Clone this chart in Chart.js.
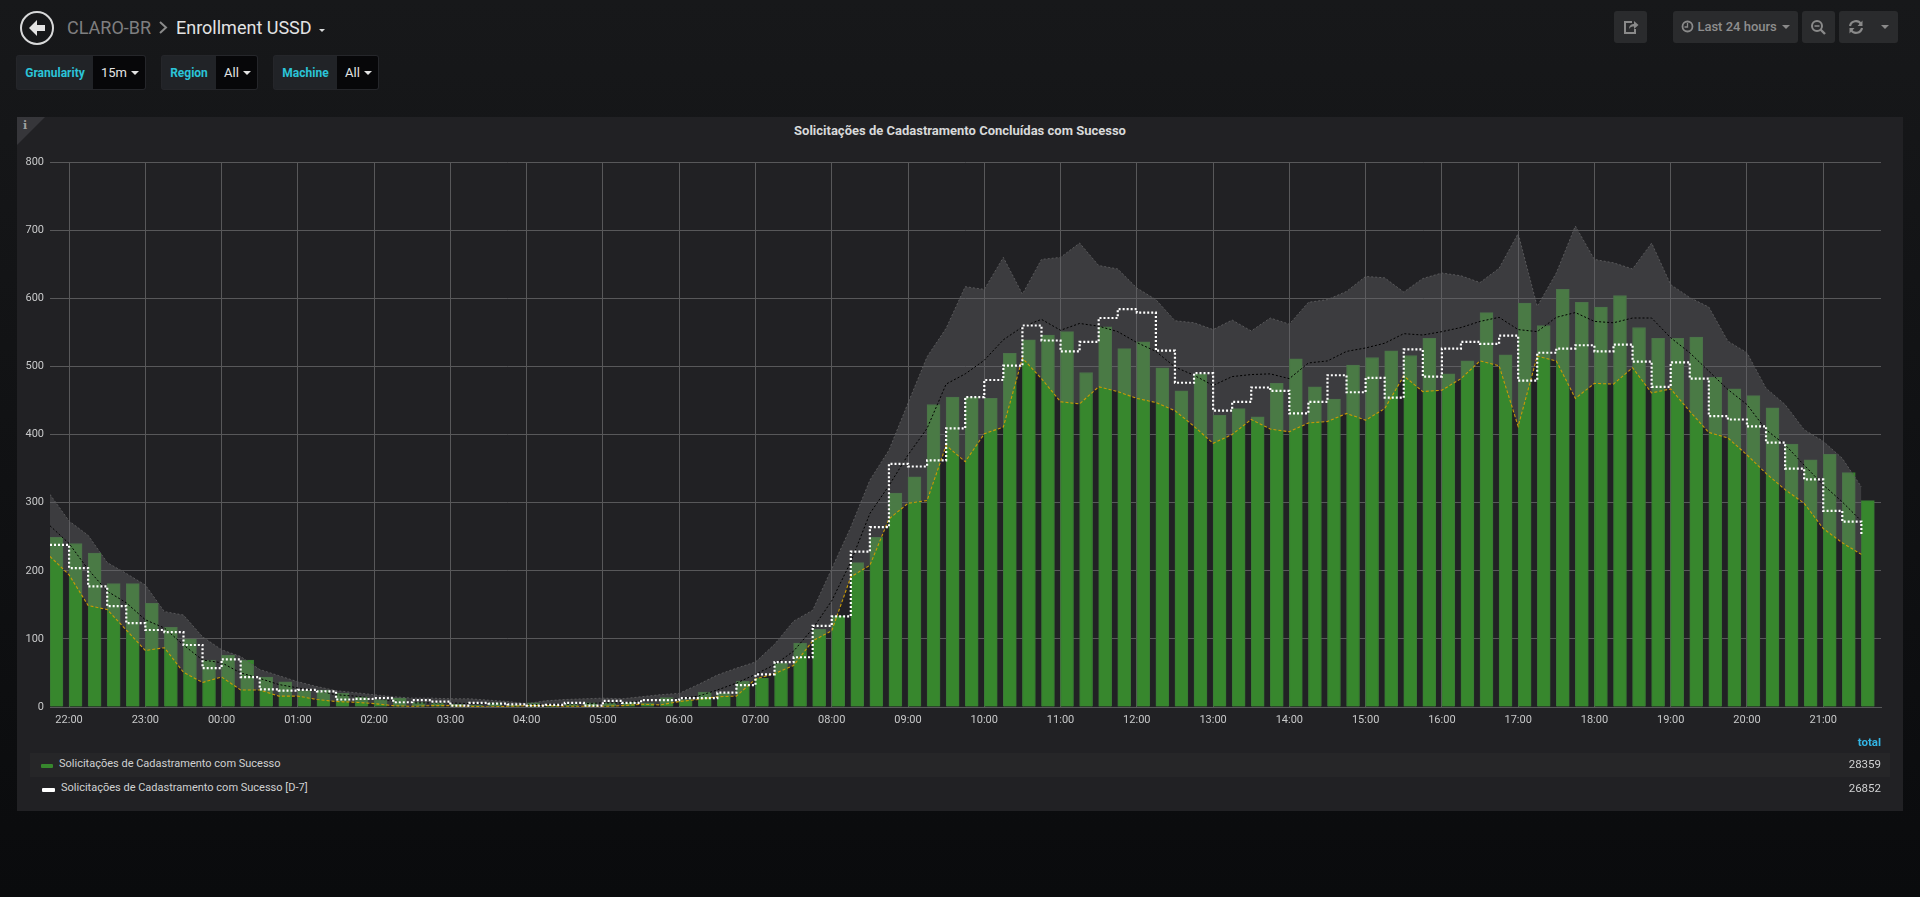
<!DOCTYPE html>
<html>
<head>
<meta charset="utf-8">
<title>Enrollment USSD</title>
<script src="https://cdn.jsdelivr.net/npm/chart.js@4/dist/chart.umd.min.js"></script>
<style>
  html, body { margin: 0; padding: 0; width: 1920px; height: 897px; overflow: hidden; }
  body { background: linear-gradient(#17181a, #0a0b0d); font-family: Roboto, sans-serif; position: relative; }
  .abs { position: absolute; white-space: nowrap; }
  .crumb { top: 15px; font-size: 18px; line-height: 26px; }
  .filter { top: 55px; height: 35px; line-height: 34px; box-sizing: border-box; font-size: 12px; border: 1px solid #25262a; border-radius: 3px; }
  .filter.label { background: #212327; color: #2bc4d8; font-weight: 700; text-align: center; border-right: 0; border-radius: 3px 0 0 3px; }
  .filter.value { background: #070709; color: #e3e3e3; font-size: 13px; padding-left: 8px; border-left: 0; border-radius: 0 3px 3px 0; }
  .caret { display: inline-block; width: 0; height: 0; border: 4px solid transparent; border-top-color: #e3e3e3; border-bottom: 0; margin-left: 4px; vertical-align: 2px; }
  .btn { top: 11px; height: 32px; background: #2a2b2d; border-radius: 3px; color: #8e8e8e; font-size: 13px; line-height: 32px; text-align: center; font-weight: 500; }
  #panel { left: 17px; top: 117px; width: 1886px; height: 694px; background: #212124; }
  #corner { left: 17px; top: 117px; width: 0; height: 0; border-top: 28px solid #36363a; border-right: 28px solid transparent; }
  #title { left: 17px; top: 122px; width: 1886px; text-align: center; font-size: 13px; font-weight: 700; line-height: 17px; color: #d8d9da; }
  #chartBox { left: 17px; top: 117px; width: 1886px; height: 623px; }
  .legend-text { font-size: 11px; color: #d0d1d2; line-height: 16px; }
</style>
</head>
<body>
<!-- header -->
<svg class="abs" style="left:19px;top:10px" width="36" height="36" viewBox="0 0 36 36">
  <circle cx="18" cy="18" r="16" fill="none" stroke="#d8d9da" stroke-width="2"/>
  <path d="M10 18 L18 10 L18 15 L26 15 L26 21 L18 21 L18 26 Z" fill="#e3e3e3"/>
</svg>
<div class="abs crumb" style="left:67px;color:#7f7f80">CLARO-BR</div>
<svg class="abs" style="left:158px;top:21px" width="10" height="13" viewBox="0 0 10 13"><path d="M2 1 L8 6.5 L2 12" fill="none" stroke="#8a8a8a" stroke-width="2"/></svg>
<div class="abs crumb" style="left:176px;color:#e3e3e3">Enrollment USSD</div>
<div class="abs" style="left:319px;top:29px;width:0;height:0;border:3px solid transparent;border-top-color:#d8d9da;border-bottom:0"></div>

<div class="abs filter label" style="left:16px;width:77px">Granularity</div>
<div class="abs filter value" style="left:93px;width:53px">15m<span class="caret"></span></div>
<div class="abs filter label" style="left:161px;width:55px">Region</div>
<div class="abs filter value" style="left:216px;width:42px">All<span class="caret"></span></div>
<div class="abs filter label" style="left:273px;width:64px">Machine</div>
<div class="abs filter value" style="left:337px;width:42px">All<span class="caret"></span></div>

<div class="abs btn" style="left:1614px;width:33px">
  <svg width="16" height="16" viewBox="0 0 16 16" style="margin-top:8px"><path d="M9 3 H2 V14 H12 V10" fill="none" stroke="#8a8a8a" stroke-width="2"/><path d="M6 10 C6 6 9 5 11 5 V2 L15.5 6 L11 10 V7.5 C9 7.5 7 8 6 10Z" fill="#8a8a8a"/></svg>
</div>
<div class="abs btn" style="left:1673px;width:125px">
  <svg width="13" height="13" viewBox="0 0 13 13" style="vertical-align:-2px"><circle cx="6.5" cy="6.5" r="5" fill="none" stroke="#8a8a8a" stroke-width="1.8"/><path d="M6.5 3 V7 H3.5" fill="none" stroke="#8a8a8a" stroke-width="1.3"/></svg>
  Last 24 hours<span class="caret" style="border-top-color:#8a8a8a;margin-left:5px"></span>
</div>
<div class="abs btn" style="left:1802px;width:33px">
  <svg width="17" height="17" viewBox="0 0 17 17" style="margin-top:8px"><circle cx="7" cy="7" r="5" fill="none" stroke="#8a8a8a" stroke-width="2"/><path d="M10.5 10.5 L15 15" stroke="#8a8a8a" stroke-width="2.4"/><path d="M4.5 7 H9.5" stroke="#8a8a8a" stroke-width="1.6"/></svg>
</div>
<div class="abs btn" style="left:1839px;width:59px;text-align:left">
  <svg width="16" height="16" viewBox="0 0 16 16" style="margin:8px 0 0 9px"><path d="M2 7 A6 6 0 0 1 13 5 M14 9 A6 6 0 0 1 3 11" fill="none" stroke="#8a8a8a" stroke-width="2.2"/><path d="M14.5 1.5 V7 H9.5Z M1.5 14.5 V9 H6.5Z" fill="#8a8a8a"/></svg>
  <span class="caret" style="border-top-color:#8a8a8a;position:absolute;left:38px;top:14px"></span>
</div>

<!-- panel -->
<div class="abs" id="panel"></div>
<div class="abs" id="corner"></div>
<div class="abs" style="left:23px;top:119px;font:700 11px 'DejaVu Serif',serif;color:#a0a0a0">i</div>
<div class="abs" id="title">Solicitações de Cadastramento Concluídas com Sucesso</div>
<div class="abs" id="chartBox"><canvas id="chart"></canvas></div>

<!-- legend -->
<div class="abs" style="left:30px;top:753px;width:1860px;height:24px;background:#262628"></div>
<div class="abs" style="right:39px;top:734px;font-size:11.5px;font-weight:700;color:#33b5e5;line-height:16px">total</div>
<div class="abs" style="left:41px;top:764px;width:12px;height:4px;background:#37872d;border-radius:1px"></div>
<div class="abs legend-text" style="left:59px;top:756px">Solicitações de Cadastramento com Sucesso</div>
<div class="abs legend-text" style="right:39px;top:756px;font-size:11.5px">28359</div>
<div class="abs" style="left:42px;top:788px;width:13px;height:4px;background:#ffffff;border-radius:1px"></div>
<div class="abs legend-text" style="left:61px;top:780px">Solicitações de Cadastramento com Sucesso [D-7]</div>
<div class="abs legend-text" style="right:39px;top:780px;font-size:11.5px">26852</div>

<script>
/* One slot every 15 minutes, first slot is 21:45 */
var tickLabels = ['22:00','23:00','00:00','01:00','02:00','03:00','04:00','05:00','06:00','07:00','08:00','09:00',
  '10:00','11:00','12:00','13:00','14:00','15:00','16:00','17:00','18:00','19:00','20:00','21:00'];
var yTicks = [0, 100, 200, 300, 400, 500, 600, 700, 800];

/* Today, bars */
var current = [249,240,226,181,181,152,117,100,69,76,69,44,37,24,25,20,15,11,13,7,
  6,4,3,6,3,6,2,4,6,6,7,6,14,11,22,20,38,42,64,94,
  114,134,212,249,314,338,444,455,455,453,519,539,546,551,491,558,526,536,498,464,
  489,428,438,426,475,511,470,452,502,513,523,516,541,489,508,579,517,593,560,613,
  594,587,604,557,541,541,543,484,467,457,439,386,363,371,344,303];
/* Seven days ago, stepped white line */
var previous = [238,204,177,148,123,113,110,91,57,70,44,26,24,25,23,11,12,13,7,10,
  8,2,6,5,4,2,3,6,2,9,6,10,10,13,13,21,32,48,66,73,
  119,133,228,264,357,353,362,409,455,480,501,560,538,522,536,571,584,579,523,476,
  490,435,448,469,464,431,448,487,462,483,454,525,485,526,536,533,545,479,520,526,
  531,522,532,507,470,506,482,427,422,412,388,350,334,288,272,253];
/* Historical band */
var bandUpper = [312,273,252,212,196,179,140,135,103,84,74,55,46,37,30,24,21,18,15,13,
  13,12,12,10,8,5,9,11,12,13,12,15,18,20,33,47,57,66,92,126,
  142,203,264,333,377,446,514,556,617,613,660,606,657,660,681,648,643,615,598,567,
  564,554,568,552,571,562,594,598,610,632,630,609,629,637,633,623,644,695,588,637,
  706,657,652,643,681,620,601,587,537,520,468,444,407,390,365,323];
var bandMean = [266,240,202,170,153,128,116,91,69,65,50,42,33,28,24,18,16,13,9,6,
  6,6,5,5,4,3,4,4,5,6,6,9,10,12,16,25,35,48,62,82,
  115,156,213,284,325,370,409,474,489,509,539,558,569,553,563,559,551,535,522,499,
  487,472,485,488,489,482,505,508,522,527,534,548,546,551,557,566,572,554,551,572,
  579,566,564,571,571,542,520,493,466,444,407,385,355,326,301,273];
var bandLower = [221,194,149,143,113,83,87,51,36,44,25,25,16,16,11,8,7,5,2,1,
  2,2,1,0,1,2,2,1,1,1,2,4,3,8,11,15,16,41,49,61,
  97,112,191,208,276,299,303,384,360,401,411,512,482,448,445,470,463,453,447,435,
  412,387,400,422,408,404,417,419,431,421,438,486,463,465,482,508,501,412,515,508,
  453,475,474,498,461,467,434,403,395,370,343,319,299,262,241,224];

/* Turn a series into {x, y} points; x counts 15 minute slots */
function points(values, shift) {
  return values.map(function(v, i) { return { x: i + shift, y: v }; });
}

var FONT = { family: 'Roboto, sans-serif', size: 11 };
var GRID = '#58585a';

new Chart(document.getElementById('chart').getContext('2d'), {
  data: {
    datasets: [
      /* Lower order is drawn on top */
      { type: 'line', label: 'Solicitações de Cadastramento com Sucesso [D-7]', data: points(previous, 0),
        borderColor: '#ffffff', borderWidth: 2.2, borderDash: [2, 2], stepped: true, pointRadius: 0, fill: false, order: 1 },
      { type: 'line', label: 'lower', data: points(bandLower, 0),
        borderColor: '#c99a06', borderWidth: 1.1, borderDash: [3, 2], pointRadius: 0, fill: false, order: 2 },
      { type: 'line', label: 'mean', data: points(bandMean, 0),
        borderColor: '#000000', borderWidth: 1, borderDash: [2, 2], pointRadius: 0, fill: false, order: 3 },
      { type: 'line', label: 'upper', data: points(bandUpper, 0),
        borderColor: '#59595b', borderWidth: 1, borderDash: [2, 2], pointRadius: 0,
        fill: { target: 1, above: 'rgba(103,103,105,0.4)', below: 'rgba(103,103,105,0.4)' }, order: 4 },
      { type: 'bar', label: 'Solicitações de Cadastramento com Sucesso', data: points(current, 0.34),
        backgroundColor: '#37872d', borderColor: '#3a7a35', borderWidth: 1, barThickness: 13, order: 5 }
    ]
  },
  options: {
    responsive: true,
    maintainAspectRatio: false,
    animation: false,
    layout: { padding: { top: 45, right: 22, left: 0, bottom: 0 } },
    plugins: { legend: { display: false }, title: { display: false }, tooltip: { enabled: false } },
    scales: {
      x: {
        type: 'linear',
        offset: false,
        min: 0,
        max: 96.03,
        afterBuildTicks: function(axis) {
          axis.ticks = tickLabels.map(function(t, i) { return { value: 1 + i * 4 }; });
        },
        afterFit: function(axis) { axis.height = 33; },
        ticks: {
          autoSkip: false,
          maxRotation: 0,
          padding: 7,
          color: '#c8c9ca',
          font: FONT,
          callback: function(value) { return tickLabels[(value - 1) / 4]; }
        },
        grid: { color: GRID, lineWidth: 1, drawTicks: false, offset: false },
        border: { color: GRID }
      },
      y: {
        min: 0,
        max: 800,
        afterBuildTicks: function(axis) {
          axis.ticks = yTicks.map(function(v) { return { value: v }; });
        },
        afterFit: function(axis) { axis.width = 33; },
        ticks: { padding: 6, color: '#c8c9ca', font: FONT },
        grid: { color: GRID, lineWidth: 1, drawTicks: false },
        border: { display: false }
      }
    }
  }
});
</script>
</body>
</html>
